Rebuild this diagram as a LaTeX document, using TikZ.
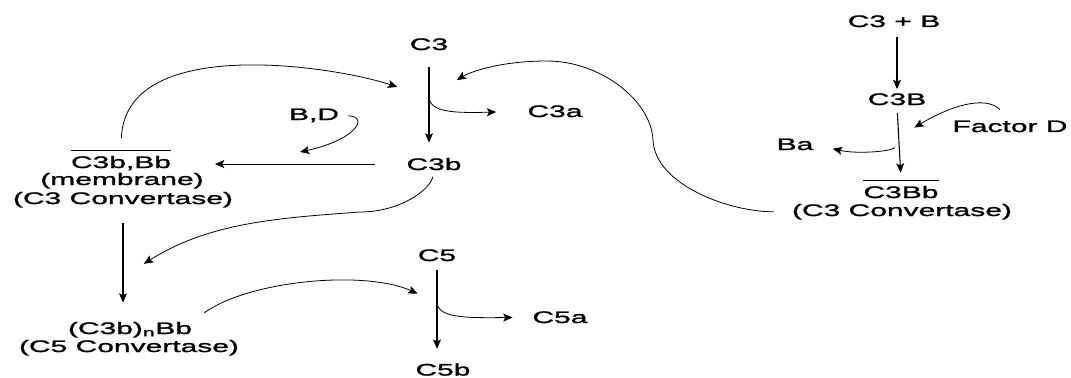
\documentclass[tikz,border=0pt]{standalone}
\usepackage{fontspec}
\setmainfont[FakeStretch=1.8,FakeBold=1.5]{Liberation Sans}
\usetikzlibrary{arrows.meta}
\newlength{\barwd}
\newcommand{\barred}[1]{\settowidth{\barwd}{#1}\rlap{\rule[12.7pt]{\barwd}{0.8pt}}#1}

\begin{document}
\begin{tikzpicture}[x=0.75pt,y=0.75pt,yscale=-1,xscale=1,
  lbl/.style={inner sep=0.75pt, anchor=base, font=\fontsize{12.5}{15}\selectfont},
  arr/.style={-{Stealth[length=7pt,width=6pt,inset=1.5pt]}, line width=0.8pt},
  curve/.style={arr, line width=0.6pt}]
\useasboundingbox (0,0) rectangle (1071,378);

% Text Node
\node[lbl] (c3) at (429,50) {C3};
% Text Node
\node[lbl] (c3a) at (555,117) {C3a};
% Text Node
\node[lbl] (c3b) at (434,170) {C3b};
% Text Node
\node[lbl] (bd) at (314,120) {B,D};
% Text Node
\node[lbl] (mem1) at (121,168) {\barred{C3b,Bb}};
% Text Node
\node[lbl] (mem2) at (122,185) {(membrane)};
% Text Node
\node[lbl] (mem3) at (123,204) {(C3 Convertase)};
% Text Node
\node[lbl] (cv1) at (130,334) {(C3b)\textsubscript{n}Bb};
% Text Node
\node[lbl] (cv2) at (129,352) {(C5 Convertase)};
% Text Node
\node[lbl] (c5) at (437,261) {C5};
% Text Node
\node[lbl] (c5a) at (560,323) {C5a};
% Text Node
\node[lbl] (c5b) at (443,375.5) {C5b};
% Text Node
\node[lbl] (c3pb) at (894,27) {C3 + B};
% Text Node
\node[lbl] (c3B) at (897,105) {C3B};
% Text Node
\node[lbl] (facD) at (1010,132) {Factor D};
% Text Node
\node[lbl] (ba) at (795,150) {Ba};
% Text Node
\node[lbl] (bb1) at (901,198) {\barred{C3Bb}};
% Text Node
\node[lbl] (bb2) at (902,216) {(C3 Convertase)};

%Straight Lines
\draw[arr, shorten <=12pt, shorten >=10.5pt] (c3.south) -- coordinate[pos=0.435] (c3fork) (c3 |- c3b.north);
%Curve Lines
\draw[curve, shorten >=22.5pt] (c3fork) .. controls (430,113) and (457,113) .. (c3a.west);
%Straight Lines
\draw[arr, shorten <=23pt, shorten >=32pt] (c3b.west) -- (c3b.west -| mem1.east);
%Curve Lines
\coordinate (bdtip) at (300,152);
\draw[curve, shorten <=6pt] (bd.east) .. controls (370,117) and (355,140) .. (bdtip);
%Curve Lines
\draw[curve, shorten <=8pt, shorten >=25pt] (mem1.north) .. controls (125,35) and (330,65) .. (c3fork);

%Straight Lines
\draw[arr, shorten <=11pt, shorten >=13.5pt] (mem3.south) -- coordinate[pos=0.61] (cvfork) (mem3 |- cv1.north);
%Curve Lines
\draw[curve, shorten <=4pt, shorten >=18.5pt] (c3b.south) .. controls (430,190) and (400,212) .. (360,212) .. controls (280,218) and (210,222) .. (cvfork);

%Straight Lines
\draw[arr, shorten <=6pt, shorten >=10pt] (c5.south) -- coordinate[pos=0.4] (c5fork) (c5 |- c5b.north);
%Curve Lines
\draw[curve, shorten >=14pt] (c5fork) .. controls (438,318) and (465,318) .. (c5a.west);
%Curve Lines
\draw[curve, shorten <=10pt, shorten >=16pt] (cv1.north east) .. controls (250,280) and (365,270) .. (c5fork);

%Straight Lines
\draw[arr, shorten <=6.75pt, shorten >=2.25pt] (c3B |- c3pb.south) -- (c3B.north);
%Straight Lines
\draw[arr, shorten <=5pt, shorten >=4.5pt] (c3B.south) -- coordinate[pos=0.425] (fdfork) coordinate[pos=0.52] (bafork) (bb1.north);
%Curve Lines
\draw[curve, shorten <=10.5pt, shorten >=13.8pt] (facD.north) .. controls (985,95) and (950,106) .. (fdfork);
%Curve Lines
\draw[curve, shorten <=4pt, shorten >=14pt] (bafork) .. controls (890,152) and (855,154) .. (ba.east);
%Curve Lines
\draw[curve, shorten <=12.75pt, shorten >=24.5pt] (bb2.west) .. controls (730,212) and (655,185) .. (653,140) .. controls (651,100) and (600,61) .. (547,61) .. controls (500,61) and (470,72) .. (c3fork);

\end{tikzpicture}
\end{document}
